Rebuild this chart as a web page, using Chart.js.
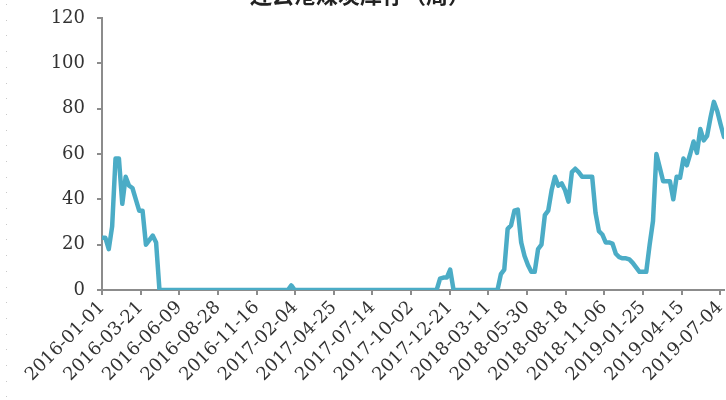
<!DOCTYPE html>
<html>
<head>
<meta charset="utf-8">
<script src="https://cdn.jsdelivr.net/npm/chart.js@4"></script>
<style>
  html, body { margin: 0; padding: 0; background: #fff; }
  #wrap { width: 726px; height: 400px; position: relative; overflow: hidden; }
</style>
</head>
<body>
<div id="wrap"><canvas id="lineChart" width="726" height="400"></canvas></div>
<script>
// 连云港煤炭库存（周） - weekly values starting 2016-01-01
const chartTitle = '连云港煤炭库存（周）';
const startDate = '2016-01-01';
const weekStepDays = 7;

const stockValues = [
  23, 23, 18, 28, 58, 58, 38, 50, 46, 45,
  40, 35, 35, 20, 22, 24, 21, 0, 0, 0,
  0, 0, 0, 0, 0, 0, 0, 0, 0, 0,
  0, 0, 0, 0, 0, 0, 0, 0, 0, 0,
  0, 0, 0, 0, 0, 0, 0, 0, 0, 0,
  0, 0, 0, 0, 0, 0, 2, 0, 0, 0,
  0, 0, 0, 0, 0, 0, 0, 0, 0, 0,
  0, 0, 0, 0, 0, 0, 0, 0, 0, 0,
  0, 0, 0, 0, 0, 0, 0, 0, 0, 0,
  0, 0, 0, 0, 0, 0, 0, 0, 0, 0,
  5, 5.5, 5.5, 9, 0, 0, 0, 0, 0, 0,
  0, 0, 0, 0, 0, 0, 0, 0, 7, 9,
  27, 28.5, 35, 35.5, 21, 15, 11, 8, 8, 18,
  20, 33, 35, 44, 50, 46, 47, 44, 39, 52,
  53.5, 52, 50, 50, 50, 50, 34, 26, 24.5, 21,
  21, 20.5, 16, 14.5, 14, 14, 13.5, 12, 10, 8,
  8, 8, 20, 30.5, 60, 54, 48, 48, 48, 40,
  50, 49.5, 58, 55, 60, 65.5, 60.5, 71, 66, 68,
  76, 83, 79, 73, 67.5
];

const xTickLabels = [
  '2016-01-01', '2016-03-21', '2016-06-09', '2016-08-28', '2016-11-16',
  '2017-02-04', '2017-04-25', '2017-07-14', '2017-10-02', '2017-12-21',
  '2018-03-11', '2018-05-30', '2018-08-18', '2018-11-06', '2019-01-25',
  '2019-04-15', '2019-07-04'
];
const xTickStepDays = 80;
const yTicks = [0, 20, 40, 60, 80, 100, 120];

const DAY = 86400000;
const t0 = Date.parse(startDate + 'T00:00:00Z');
const points = stockValues.map((v, i) => ({ x: (t0 + i * weekStepDays * DAY - t0) / DAY, y: v }));

const axisColor = '#8c8c8c';
const tickFont = { family: '"DejaVu Serif", serif', size: 18 };

// faint dotted column at the left edge + cut-off title
const decorPlugin = {
  id: 'decor',
  afterDraw(chart) {
    const ctx = chart.ctx;
    ctx.save();
    ctx.fillStyle = '#c8c8c8';
    for (let y = 4; y < 400; y += 15.7) ctx.fillRect(6, Math.round(y), 1, 1);
    ctx.fillStyle = '#222';
    ctx.font = 'bold 22px "Noto Sans CJK SC", sans-serif';
    ctx.textAlign = 'center';
    ctx.textBaseline = 'alphabetic';
    ctx.fillText(chartTitle, 360, 3);
    ctx.restore();
  }
};

new Chart(document.getElementById('lineChart'), {
  type: 'line',
  data: {
    datasets: [{
      label: chartTitle,
      data: points,
      borderColor: '#4bacc6',
      borderWidth: 4.5,
      pointRadius: 0,
      tension: 0,
      borderJoinStyle: 'round',
      borderCapStyle: 'round',
      fill: false
    }]
  },
  options: {
    responsive: false,
    animation: false,
    events: [],
    layout: { padding: { top: 18, right: 2, left: 0, bottom: 0 } },
    plugins: { legend: { display: false }, tooltip: { enabled: false } },
    scales: {
      x: {
        type: 'linear',
        min: 0,
        max: 1288,
        afterBuildTicks(scale) {
          scale.ticks = xTickLabels.map((_, k) => ({ value: k * xTickStepDays }));
        },
        afterFit(scale) {
          scale.height = 110;
          scale.paddingLeft = 0;
          scale.paddingRight = 0;
        },
        ticks: {
          autoSkip: false,
          minRotation: 45,
          maxRotation: 45,
          padding: 2,
          color: '#333',
          font: tickFont,
          callback: (val, idx) => xTickLabels[idx]
        },
        grid: { drawOnChartArea: false, drawTicks: true, tickLength: 5, color: axisColor, lineWidth: 2 },
        border: { color: axisColor, width: 2 }
      },
      y: {
        min: 0,
        max: 120,
        afterBuildTicks(scale) {
          scale.ticks = yTicks.map(v => ({ value: v }));
        },
        afterFit(scale) {
          scale.width = 102;
          scale.paddingTop = 0;
          scale.paddingBottom = 0;
        },
        ticks: { padding: 12, color: '#333', font: tickFont },
        grid: { drawOnChartArea: false, drawTicks: true, tickLength: 5, color: axisColor, lineWidth: 2 },
        border: { color: axisColor, width: 2 }
      }
    }
  },
  plugins: [decorPlugin]
});
</script>
</body>
</html>
